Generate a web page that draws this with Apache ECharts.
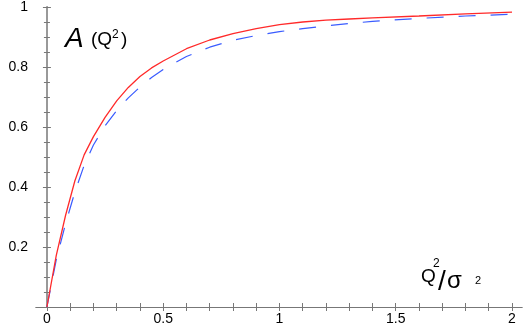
<!DOCTYPE html>
<html>
<head>
<meta charset="utf-8">
<script src="https://cdn.jsdelivr.net/npm/echarts@6/dist/echarts.min.js"></script>
<style>
  html, body { margin: 0; padding: 0; background: #fff; }
  #chart { width: 528px; height: 326px; }
</style>
</head>
<body>
<div id="chart"></div>
<script>
// values
var xValues = [0, 0.04, 0.08, 0.12, 0.16, 0.2, 0.25, 0.3, 0.35, 0.4, 0.45, 0.5, 0.6, 0.7, 0.8, 0.9, 1.0, 1.1, 1.2, 1.3, 1.4, 1.6, 1.8, 2.0]
var redValues = [0, 0.171, 0.305, 0.42, 0.507, 0.568, 0.632, 0.687, 0.732, 0.768, 0.797, 0.82, 0.861, 0.89, 0.911, 0.928, 0.941, 0.95, 0.956, 0.96, 0.964, 0.97, 0.977, 0.983]
var blueValues = [0, 0.157, 0.277, 0.383, 0.472, 0.54, 0.604, 0.655, 0.697, 0.733, 0.765, 0.792, 0.835, 0.866, 0.889, 0.905, 0.918, 0.928, 0.937, 0.945, 0.952, 0.962, 0.97, 0.976]
var xTickLabels = [0, 0.5, 1, 1.5, 2]
var xTicks = [0, 0.1, 0.2, 0.3, 0.4, 0.5, 0.6, 0.7, 0.8, 0.9, 1, 1.1, 1.2, 1.3, 1.4, 1.5, 1.6, 1.7, 1.8, 1.9, 2]

var FONT = 'Liberation Sans, Arial, sans-serif'
var AXIS_COLOR = '#777'

function pairs(xs, ys) {
  return xs.map(function (x, i) { return [x, ys[i]] })
}

var chart = echarts.init(document.getElementById('chart'))

var xBase = {
  type: 'value',
  min: -0.047,
  max: 2.043,
  splitLine: { show: false },
  axisLine: { show: true, lineStyle: { color: AXIS_COLOR, width: 1 } },
  axisTick: { show: true, inside: true, length: 4, customValues: xTicks, lineStyle: { color: AXIS_COLOR } }
}

var yBase = {
  type: 'value',
  min: 0,
  max: 1,
  interval: 0.2,
  splitLine: { show: false },
  axisLine: { show: true, lineStyle: { color: AXIS_COLOR, width: 1 } },
  axisTick: { show: true, inside: true, length: 4, lineStyle: { color: AXIS_COLOR } },
  minorTick: { show: true, splitNumber: 4, length: 3, lineStyle: { color: AXIS_COLOR } }
}

chart.setOption({
  animation: false,
  backgroundColor: '#fff',
  grid: { left: 36, right: 6, top: 6, bottom: 19 },
  xAxis: [
    Object.assign({}, xBase, {
      position: 'bottom',
      axisLabel: {
        customValues: xTickLabels,
        margin: 5,
        color: '#000',
        fontSize: 14,
        fontFamily: FONT
      }
    }),
    Object.assign({}, xBase, {
      position: 'top',
      axisLabel: { show: false }
    })
  ],
  yAxis: [
    Object.assign({}, yBase, {
      position: 'left',
      axisLabel: {
        margin: 8,
        color: '#000',
        fontSize: 14,
        fontFamily: FONT,
        formatter: function (v) { return v === 0 ? '' : String(v) }
      }
    }),
    Object.assign({}, yBase, {
      position: 'right',
      axisLine: { show: true, lineStyle: { color: '#999', width: 2 } },
      axisLabel: { show: false }
    })
  ],
  series: [
    {
      name: 'blue',
      type: 'line',
      data: pairs(xValues, blueValues),
      showSymbol: false,
      lineStyle: { color: '#3a5cff', width: 1.2, type: [17, 15] }
    },
    {
      name: 'red',
      type: 'line',
      data: pairs(xValues, redValues),
      showSymbol: false,
      lineStyle: { color: '#ff2a2a', width: 1.3 }
    }
  ],
  graphic: [
    { type: 'text', left: 65, top: 25, style: { text: 'A', font: 'italic 28px ' + FONT, fill: '#000' } },
    { type: 'text', left: 91, top: 30, style: { text: '(Q', font: '19px ' + FONT, fill: '#000' } },
    { type: 'text', left: 112, top: 29, style: { text: '2', font: '12px ' + FONT, fill: '#000' } },
    { type: 'text', left: 121, top: 30, style: { text: ')', font: '19px ' + FONT, fill: '#000' } },
    { type: 'text', left: 421, top: 267, style: { text: 'Q', font: '19px ' + FONT, fill: '#000' } },
    { type: 'text', left: 433, top: 258, style: { text: '2', font: '12px ' + FONT, fill: '#000' } },
    { type: 'text', left: 438, top: 268, style: { text: '/', font: '28px ' + FONT, fill: '#000' } },
    { type: 'text', left: 447, top: 269, style: { text: 'σ', font: '24px ' + FONT, fill: '#000' } },
    { type: 'text', left: 475, top: 275, style: { text: '2', font: '11px ' + FONT, fill: '#000' } }
  ]
})
</script>
</body>
</html>
